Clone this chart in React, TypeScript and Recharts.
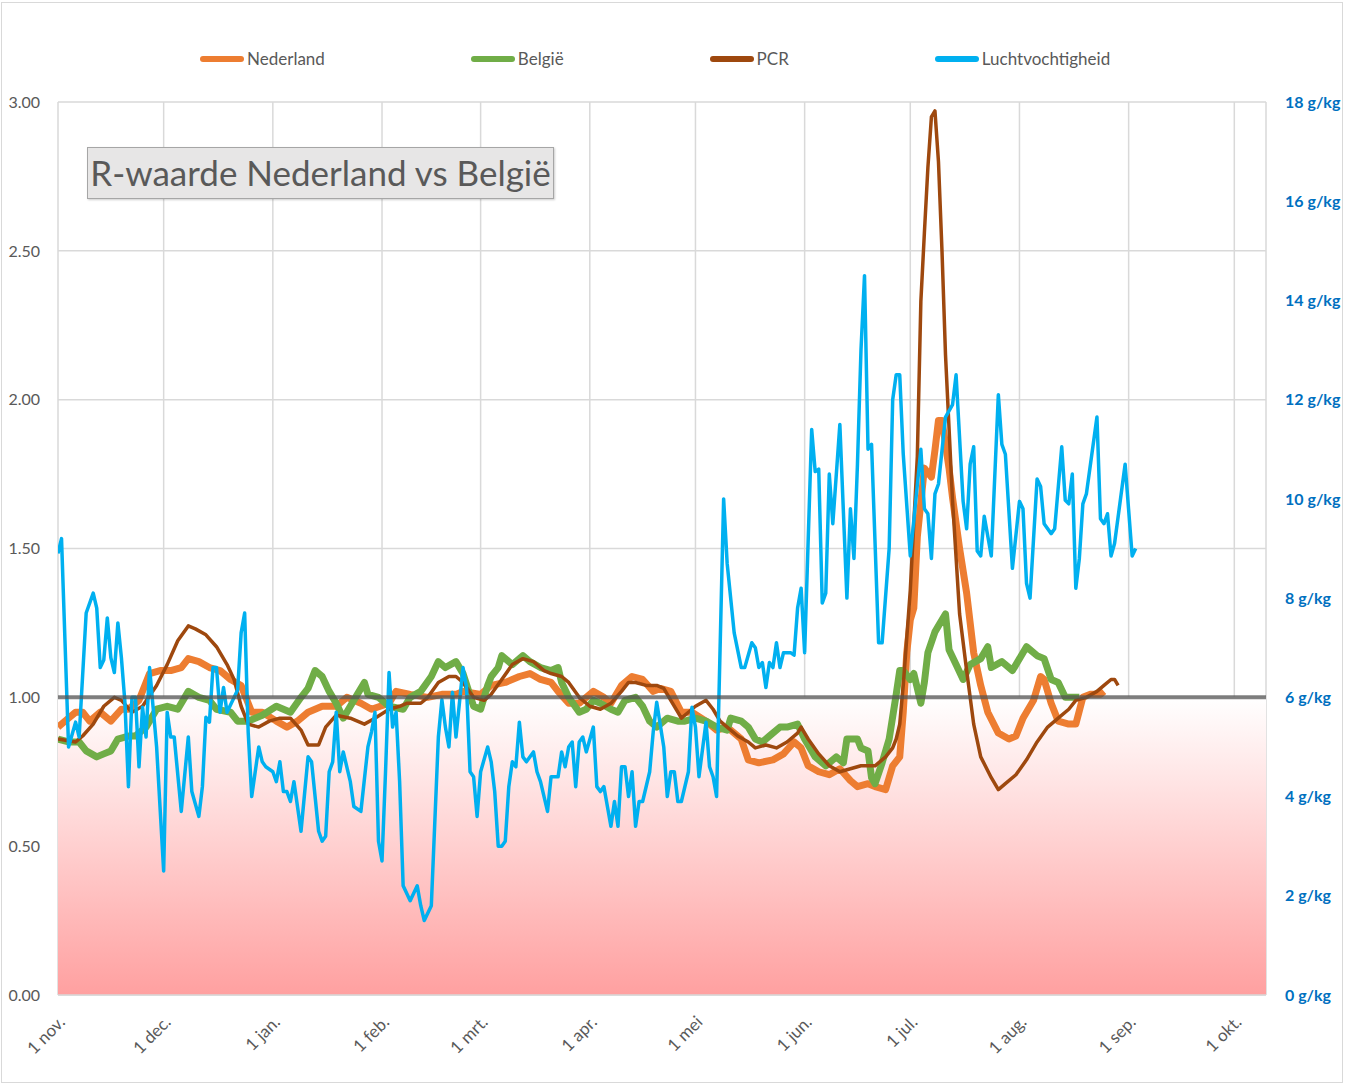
import {
  LineChart,
  Line,
  XAxis,
  YAxis,
  CartesianGrid,
  ReferenceArea,
  ReferenceLine,
} from "recharts";

// day 0 = 1 nov.
const monthTicks = [0, 30, 61, 92, 120, 151, 181, 212, 242, 273, 304, 334];
const monthLabels = [
  "1 nov.", "1 dec.", "1 jan.", "1 feb.", "1 mrt.", "1 apr.",
  "1 mei", "1 jun.", "1 jul.", "1 aug.", "1 sep.", "1 okt.",
];
const rTicks = [0, 0.5, 1, 1.5, 2, 2.5, 3];
const humidityTicks = [0, 2, 4, 6, 8, 10, 12, 14, 16, 18];

const legendItems = [
  { name: "Nederland", color: "#ED7D31" },
  { name: "België", color: "#70AD47" },
  { name: "PCR", color: "#9E480E" },
  { name: "Luchtvochtigheid", color: "#00B0F0" },
];

// [day, R]
const nederland: [number, number][] = [
  [0, 0.9], [3, 0.93], [5, 0.95], [7, 0.95], [9, 0.92], [12, 0.95], [15, 0.92], [18, 0.96],
  [20, 0.96], [23, 0.99], [26, 1.08], [29, 1.09], [32, 1.09], [35, 1.1], [37, 1.13], [40, 1.12],
  [43, 1.1], [46, 1.09], [49, 1.06], [52, 1.04], [54, 0.98], [55, 0.95], [58, 0.95], [62, 0.92],
  [65, 0.9], [68, 0.92], [71, 0.95], [75, 0.97], [79, 0.97], [82, 1.0], [86, 0.98], [89, 0.96],
  [94, 0.98], [96, 1.02], [100, 1.01], [105, 1.0], [109, 1.01], [113, 1.01], [115, 1.02],
  [120, 1.01], [123, 1.04], [127, 1.05], [131, 1.07], [134, 1.08], [137, 1.06], [140, 1.05],
  [142, 1.02], [145, 0.98], [148, 0.98], [152, 1.02], [155, 1.0], [157, 0.98], [160, 1.04],
  [163, 1.07], [166, 1.06], [169, 1.02], [171, 1.03], [174, 1.02], [177, 0.95], [180, 0.95],
  [184, 0.92], [187, 0.89], [190, 0.9], [194, 0.86], [196, 0.79], [199, 0.78], [203, 0.79],
  [206, 0.81], [209, 0.85], [211, 0.83], [213, 0.77], [216, 0.75], [219, 0.74], [222, 0.76],
  [225, 0.72], [227, 0.7], [230, 0.71], [232, 0.7], [235, 0.69], [237, 0.77], [239, 0.8],
  [240, 0.95], [241, 1.15], [242, 1.26], [243, 1.3], [244, 1.54], [246, 1.77], [248, 1.74],
  [249, 1.83], [250, 1.93], [251, 1.93], [253, 1.77], [254, 1.67], [256, 1.5], [258, 1.35],
  [260, 1.15], [262, 1.04], [264, 0.95], [267, 0.88], [270, 0.86], [272, 0.87], [274, 0.93],
  [277, 0.99], [279, 1.07], [280, 1.06], [282, 0.98], [284, 0.92], [287, 0.91], [289, 0.91],
  [291, 1.0], [293, 1.01], [296, 1.01], [297, 1.02],
];

const belgie: [number, number][] = [
  [0, 0.86], [3, 0.85], [6, 0.85], [8, 0.82], [11, 0.8], [13, 0.81], [15, 0.82], [17, 0.86],
  [20, 0.87], [22, 0.87], [25, 0.9], [28, 0.96], [31, 0.97], [34, 0.96], [37, 1.02], [40, 1.0],
  [43, 0.99], [45, 0.96], [49, 0.95], [51, 0.92], [54, 0.92], [58, 0.94], [62, 0.97], [66, 0.95],
  [69, 1.0], [71, 1.03], [73, 1.09], [75, 1.07], [77, 1.02], [79, 0.98], [81, 0.93], [83, 0.97],
  [85, 1.01], [87, 1.05], [88, 1.01], [91, 1.0], [94, 0.97], [98, 0.96], [100, 1.0], [103, 1.02],
  [106, 1.07], [108, 1.12], [110, 1.1], [113, 1.12], [115, 1.08], [118, 0.97], [120, 0.96],
  [122, 1.04], [123, 1.07], [125, 1.1], [126, 1.14], [129, 1.11], [132, 1.14], [134, 1.12],
  [137, 1.1], [140, 1.09], [142, 1.1], [143, 1.05], [145, 1.0], [148, 0.95], [150, 0.96],
  [152, 0.99], [154, 0.98], [157, 0.96], [159, 0.95], [161, 0.99], [164, 1.0], [166, 0.97],
  [168, 0.92], [170, 0.9], [173, 0.93], [176, 0.92], [178, 0.92], [181, 0.93], [184, 0.92],
  [187, 0.9], [190, 0.89], [191, 0.93], [194, 0.92], [196, 0.9], [198, 0.86], [200, 0.85],
  [202, 0.87], [205, 0.9], [207, 0.9], [210, 0.91], [212, 0.86], [215, 0.8], [218, 0.77],
  [221, 0.8], [223, 0.78], [224, 0.86], [227, 0.86], [228, 0.83], [230, 0.82], [231, 0.73],
  [232, 0.71], [234, 0.78], [236, 0.86], [238, 1.01], [239, 1.09], [240, 1.09], [242, 1.06],
  [243, 1.08], [245, 0.98], [246, 1.05], [247, 1.15], [249, 1.22], [250, 1.24], [252, 1.28],
  [253, 1.16], [255, 1.11], [257, 1.06], [259, 1.11], [262, 1.13], [264, 1.17], [265, 1.1],
  [268, 1.12], [271, 1.09], [274, 1.15], [275, 1.17], [278, 1.14], [280, 1.13], [282, 1.06],
  [284, 1.05], [286, 1.0], [288, 1.0], [290, 1.0],
];

const pcr: [number, number][] = [
  [0, 0.86], [5, 0.85], [7, 0.87], [10, 0.91], [13, 0.97], [16, 1.0], [18, 0.99], [21, 0.95],
  [24, 0.97], [28, 1.04], [31, 1.11], [34, 1.19], [37, 1.24], [39, 1.23], [42, 1.21], [45, 1.17],
  [48, 1.11], [50, 1.06], [52, 0.97], [54, 0.91], [57, 0.9], [60, 0.92], [63, 0.93], [66, 0.93],
  [69, 0.89], [71, 0.84], [74, 0.84], [76, 0.9], [79, 0.94], [83, 0.93], [87, 0.91], [90, 0.93],
  [94, 0.96], [97, 0.97], [99, 0.98], [103, 0.98], [105, 1.0], [108, 1.05], [111, 1.07],
  [113, 1.07], [115, 1.05], [118, 1.0], [121, 0.99], [123, 1.01], [126, 1.06], [129, 1.11],
  [132, 1.13], [135, 1.12], [138, 1.09], [140, 1.08], [143, 1.07], [145, 1.05], [148, 1.0],
  [151, 0.97], [154, 0.96], [157, 0.98], [160, 1.02], [162, 1.05], [164, 1.05], [167, 1.04],
  [170, 1.04], [172, 1.03], [174, 0.99], [176, 0.95], [177, 0.93], [179, 0.95], [181, 0.97],
  [184, 0.99], [186, 0.96], [188, 0.92], [190, 0.9], [193, 0.87], [196, 0.85], [198, 0.83],
  [201, 0.84], [204, 0.83], [207, 0.85], [210, 0.88], [211, 0.9], [213, 0.86], [216, 0.81],
  [219, 0.77], [222, 0.75], [225, 0.76], [228, 0.77], [230, 0.77], [232, 0.77], [235, 0.8],
  [237, 0.83], [238, 0.86], [239, 0.91], [240, 1.04], [242, 1.36], [244, 1.81], [245, 2.33],
  [246, 2.56], [247, 2.78], [248, 2.95], [249, 2.97], [250, 2.8], [251, 2.5], [252, 2.15],
  [254, 1.66], [256, 1.28], [258, 1.09], [260, 0.91], [262, 0.8], [265, 0.73], [267, 0.69],
  [269, 0.71], [272, 0.74], [275, 0.79], [278, 0.85], [281, 0.9], [284, 0.93], [287, 0.96],
  [289, 0.99], [292, 1.0], [295, 1.02], [297, 1.04], [299, 1.06], [300, 1.06], [301, 1.04],
];

// [day, g/kg]
const luchtvochtigheid: [number, number][] = [
  [0, 8.9], [1, 9.2], [3, 5.0], [5, 5.5], [6, 5.2], [8, 7.7], [10, 8.1], [11, 7.8], [12, 6.6],
  [13, 6.75], [14, 7.6], [15, 6.8], [16, 6.5], [17, 7.5], [18, 6.8], [19, 5.9], [20, 4.2],
  [21, 6.0], [22, 6.0], [23, 4.6], [24, 5.8], [25, 5.2], [26, 6.6], [28, 5.0], [30, 2.5],
  [31, 5.7], [32, 5.2], [33, 5.2], [35, 3.7], [37, 5.2], [38, 4.1], [40, 3.6], [41, 4.2],
  [42, 5.6], [43, 5.5], [44, 6.6], [45, 6.6], [46, 5.7], [47, 6.2], [48, 5.7], [51, 6.15],
  [52, 7.3], [53, 7.7], [54, 5.3], [55, 4.0], [57, 5.0], [58, 4.7], [59, 4.6], [61, 4.5],
  [62, 4.3], [63, 4.7], [64, 4.1], [65, 4.1], [66, 3.9], [67, 4.3], [69, 3.3], [71, 4.8],
  [72, 4.7], [74, 3.3], [75, 3.1], [76, 3.2], [77, 4.5], [78, 4.7], [79, 5.7], [80, 4.5],
  [81, 4.9], [83, 4.3], [84, 3.8], [86, 3.7], [88, 5.0], [89, 5.3], [90, 5.7], [91, 3.1],
  [92, 2.7], [93, 4.5], [94, 6.5], [95, 5.4], [96, 5.7], [97, 4.3], [98, 2.2], [100, 1.9],
  [102, 2.2], [103, 1.8], [104, 1.5], [106, 1.8], [107, 3.5], [108, 5.2], [109, 5.95],
  [110, 5.4], [111, 5.0], [112, 6.1], [113, 5.2], [115, 6.6], [116, 6.2], [117, 4.5],
  [118, 4.4], [119, 3.6], [120, 4.5], [122, 5.0], [123, 4.7], [124, 4.1], [125, 3.0],
  [126, 3.0], [127, 3.1], [128, 4.2], [129, 4.7], [130, 4.6], [131, 5.5], [132, 4.8],
  [133, 4.7], [135, 4.9], [136, 4.5], [137, 4.3], [139, 3.7], [140, 4.4], [142, 4.4],
  [143, 4.9], [144, 4.6], [145, 5.0], [146, 5.1], [147, 4.2], [148, 5.1], [149, 5.2],
  [150, 4.9], [152, 5.4], [153, 4.2], [154, 4.1], [155, 4.2], [156, 3.8], [157, 3.4],
  [158, 3.9], [159, 3.4], [160, 4.6], [161, 4.6], [162, 4.0], [163, 4.5], [164, 3.4],
  [165, 3.9], [166, 3.9], [168, 4.5], [169, 5.3], [170, 5.9], [172, 5.0], [173, 4.0],
  [174, 4.5], [175, 4.5], [176, 3.9], [177, 3.9], [179, 4.5], [180, 5.8], [181, 5.4],
  [182, 4.4], [184, 5.5], [185, 4.6], [186, 4.4], [187, 4.0], [189, 10.0], [190, 8.7],
  [192, 7.3], [194, 6.6], [195, 6.6], [197, 7.1], [198, 7.0], [199, 6.6], [200, 6.7],
  [201, 6.2], [202, 6.7], [203, 6.6], [204, 7.1], [205, 6.6], [206, 6.9], [208, 6.9],
  [209, 6.85], [210, 7.8], [211, 8.2], [212, 6.9], [213, 9.15], [214, 11.4], [215, 10.55],
  [216, 10.6], [217, 7.9], [218, 8.1], [219, 10.5], [220, 9.5], [222, 11.5], [224, 8.0],
  [225, 9.8], [226, 8.8], [227, 10.7], [228, 13.0], [229, 14.5], [230, 11.0], [231, 11.1],
  [233, 7.1], [234, 7.1], [236, 9.0], [237, 12.0], [238, 12.5], [239, 12.5], [240, 10.9],
  [242, 8.85], [245, 11.0], [246, 9.8], [247, 9.7], [248, 8.8], [249, 10.1], [250, 10.3],
  [252, 11.65], [254, 11.9], [255, 12.5], [257, 9.95], [258, 9.4], [259, 10.7], [260, 11.05],
  [261, 8.95], [262, 8.85], [263, 9.65], [265, 8.85], [267, 12.1], [268, 11.1], [269, 10.9],
  [271, 8.6], [273, 9.95], [274, 9.8], [275, 8.3], [276, 8.0], [278, 10.4], [279, 10.25],
  [280, 9.5], [282, 9.3], [283, 9.4], [285, 11.05], [286, 9.97], [287, 9.9], [288, 10.5],
  [289, 8.2], [290, 8.8], [291, 9.9], [292, 10.1], [295, 11.65], [296, 9.6], [297, 9.5],
  [298, 9.7], [299, 8.85], [300, 9.1], [303, 10.7], [305, 8.85], [306, 9.0],
];

const toRows = (points: [number, number][]) =>
  points.map(([day, value]) => ({ day, value }));

const FONT = "Lato, 'Liberation Sans', sans-serif";
const GREY_TEXT = "#595959";

const MonthTick = ({ x, y, payload }: any) => {
  const label = monthLabels[monthTicks.indexOf(payload.value)];
  return (
    <g transform={`translate(${x + 4},${y + 24})`}>
      <text
        textAnchor="end"
        transform="rotate(-45)"
        dy="0.35em"
        fill={GREY_TEXT}
        fontSize={17}
        fontFamily={FONT}
      >
        {label}
      </text>
    </g>
  );
};

const App = () => {
  return (
    <div
      style={{
        position: "absolute",
        left: 0,
        top: 0,
        width: 1345,
        height: 1085,
        background: "#fff",
        fontFamily: FONT,
      }}
    >
      <LineChart
        width={1345}
        height={1085}
        margin={{ top: 102, right: 0, bottom: 0, left: 0 }}
      >
        <defs>
          <linearGradient id="belowOne" x1="0" y1="0" x2="0" y2="1">
            <stop offset="0%" stopColor="#ffffff" />
            <stop offset="100%" stopColor="#ffa0a0" />
          </linearGradient>
        </defs>
        <CartesianGrid yAxisId="left" stroke="#d9d9d9" strokeWidth={1.5} />
        <XAxis
          dataKey="day"
          type="number"
          domain={[0, 343]}
          ticks={monthTicks}
          interval={0}
          allowDataOverflow
          height={90}
          tickSize={0}
          tickMargin={0}
          tickLine={false}
          axisLine={{ stroke: "#d9d9d9", strokeWidth: 1.5 }}
          tick={<MonthTick />}
        />
        <YAxis
          yAxisId="left"
          domain={[0, 3]}
          ticks={rTicks}
          width={58}
          tickSize={0}
          tickMargin={18}
          axisLine={false}
          tickLine={false}
          tickFormatter={(v: number) => v.toFixed(2)}
          tick={{ fill: GREY_TEXT, fontSize: 16, fontFamily: FONT }}
        />
        <YAxis
          yAxisId="right"
          orientation="right"
          domain={[0, 18]}
          ticks={humidityTicks}
          width={79}
          tickSize={0}
          tickMargin={19}
          axisLine={false}
          tickLine={false}
          tickFormatter={(v: number) => `${v} g/kg`}
          tick={{ fill: "#0070C0", fontSize: 16, fontFamily: FONT, fontWeight: 700 }}
        />
        <ReferenceArea
          yAxisId="left"
          x1={0}
          x2={343}
          y1={0}
          y2={1}
          fill="url(#belowOne)"
          fillOpacity={1}
          stroke="none"
        />
        <Line
          yAxisId="left"
          data={toRows(nederland)}
          dataKey="value"
          stroke="#ED7D31"
          strokeWidth={7}
          strokeLinejoin="round"
          dot={false}
          isAnimationActive={false}
        />
        <Line
          yAxisId="left"
          data={toRows(belgie)}
          dataKey="value"
          stroke="#70AD47"
          strokeWidth={7}
          strokeLinejoin="round"
          dot={false}
          isAnimationActive={false}
        />
        <Line
          yAxisId="left"
          data={toRows(pcr)}
          dataKey="value"
          stroke="#9E480E"
          strokeWidth={3.5}
          strokeLinejoin="round"
          dot={false}
          isAnimationActive={false}
        />
        <Line
          yAxisId="right"
          data={toRows(luchtvochtigheid)}
          dataKey="value"
          stroke="#00B0F0"
          strokeWidth={3.5}
          strokeLinejoin="round"
          dot={false}
          isAnimationActive={false}
        />
        <ReferenceLine
          yAxisId="left"
          y={1}
          stroke="rgba(80,80,80,0.72)"
          strokeWidth={4}
        />
      </LineChart>

      {/* legend */}
      <div
        style={{
          position: "absolute",
          left: 200,
          top: 49,
          display: "flex",
          gap: 146,
          fontSize: 17,
          lineHeight: "20px",
          color: GREY_TEXT,
        }}
      >
        {legendItems.map((item) => (
          <div key={item.name} style={{ display: "flex", alignItems: "center" }}>
            <span
              style={{
                width: 44,
                height: 6,
                borderRadius: 3,
                background: item.color,
                marginRight: 3,
              }}
            />
            <span>{item.name}</span>
          </div>
        ))}
      </div>

      {/* title box */}
      <div
        style={{
          position: "absolute",
          left: 87,
          top: 147,
          width: 467,
          height: 52,
          boxSizing: "border-box",
          background: "#e7e6e6",
          border: "1.5px solid #a6a6a6",
          boxShadow: "1px 1px 2px rgba(0,0,0,0.2)",
          color: GREY_TEXT,
          fontSize: 35,
          lineHeight: "49px",
          textAlign: "center",
          whiteSpace: "nowrap",
        }}
      >
        R-waarde Nederland vs België
      </div>

      {/* outer frame */}
      <div
        style={{
          position: "absolute",
          left: 1,
          top: 2,
          width: 1342,
          height: 1081,
          boxSizing: "border-box",
          border: "1px solid #d9d9d9",
          pointerEvents: "none",
        }}
      />
    </div>
  );
};

export default App;
